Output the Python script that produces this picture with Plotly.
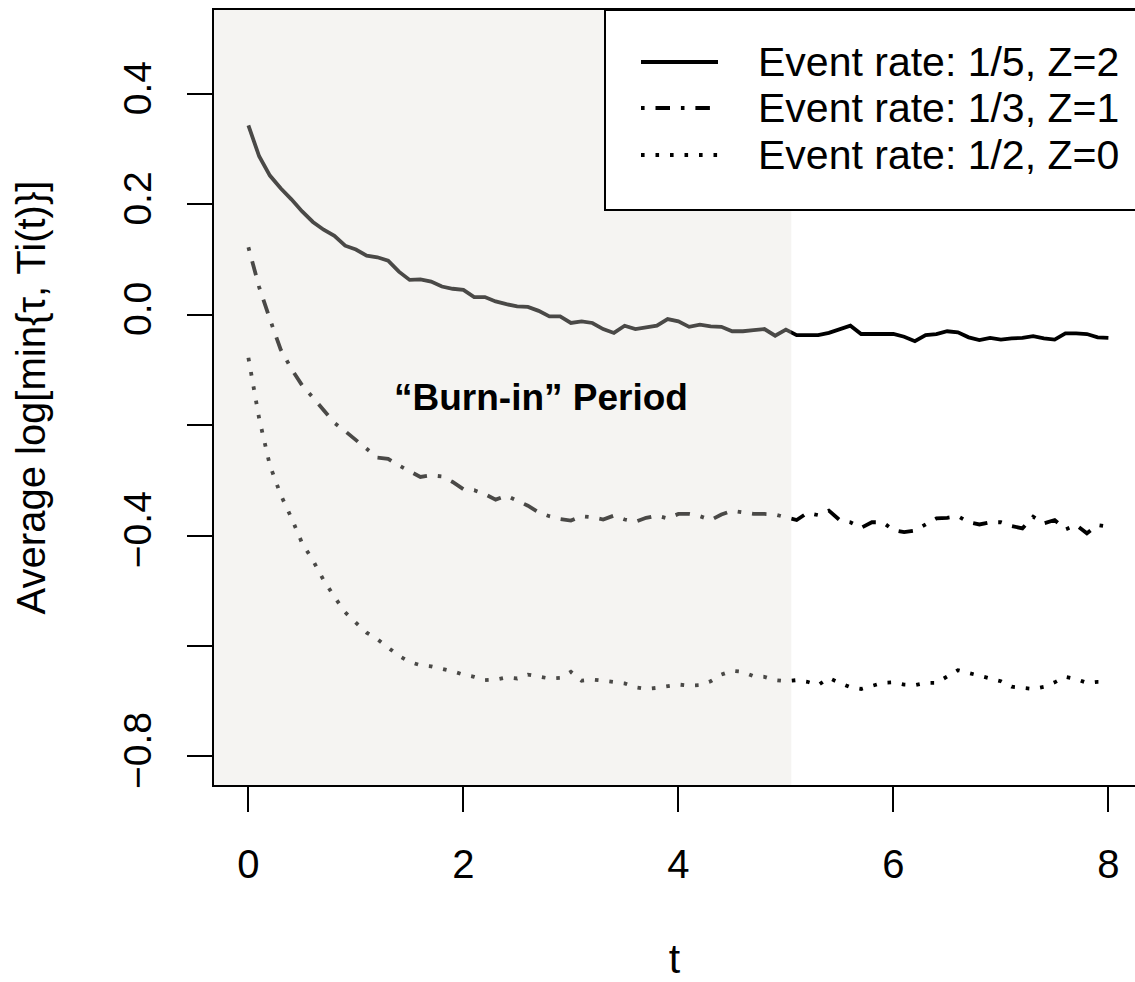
import plotly.graph_objects as go

# ---------------- data ----------------
T = [0.0, 0.1, 0.2, 0.3, 0.4, 0.5, 0.6, 0.7, 0.8, 0.9,
     1.0, 1.1, 1.2, 1.3, 1.4, 1.5, 1.6, 1.7, 1.8, 1.9,
     2.0, 2.1, 2.2, 2.3, 2.4, 2.5, 2.6, 2.7, 2.8, 2.9,
     3.0, 3.1, 3.2, 3.3, 3.4, 3.5, 3.6, 3.7, 3.8, 3.9,
     4.0, 4.1, 4.2, 4.3, 4.4, 4.5, 4.6, 4.7, 4.8, 4.9,
     5.0, 5.1, 5.2, 5.3, 5.4, 5.5, 5.6, 5.7, 5.8, 5.9,
     6.0, 6.1, 6.2, 6.3, 6.4, 6.5, 6.6, 6.7, 6.8, 6.9,
     7.0, 7.1, 7.2, 7.3, 7.4, 7.5, 7.6, 7.7, 7.8, 7.9, 8.0]

rate_1_5 = [0.343, 0.287, 0.252, 0.229, 0.209, 0.187, 0.168, 0.154, 0.143, 0.125,
            0.118, 0.107, 0.104, 0.098, 0.078, 0.063, 0.064, 0.060, 0.051, 0.047,
            0.045, 0.032, 0.032, 0.024, 0.019, 0.015, 0.014, 0.007, -0.003, -0.003,
            -0.015, -0.012, -0.015, -0.026, -0.033, -0.020, -0.026, -0.023, -0.020, -0.008,
            -0.012, -0.022, -0.018, -0.021, -0.022, -0.030, -0.030, -0.028, -0.026, -0.038,
            -0.027, -0.037, -0.037, -0.037, -0.033, -0.026, -0.020, -0.035, -0.035, -0.035,
            -0.035, -0.040, -0.048, -0.037, -0.035, -0.030, -0.032, -0.041, -0.046, -0.042,
            -0.045, -0.043, -0.042, -0.039, -0.043, -0.045, -0.034, -0.034, -0.035, -0.041, -0.042]

rate_1_3 = [0.122, 0.050, -0.008, -0.063, -0.098, -0.128, -0.150, -0.173, -0.196, -0.211,
            -0.226, -0.243, -0.259, -0.261, -0.273, -0.284, -0.294, -0.291, -0.293, -0.303,
            -0.316, -0.318, -0.325, -0.335, -0.328, -0.337, -0.346, -0.358, -0.365, -0.370,
            -0.373, -0.365, -0.367, -0.371, -0.364, -0.371, -0.375, -0.368, -0.364, -0.369,
            -0.361, -0.361, -0.365, -0.372, -0.362, -0.355, -0.358, -0.361, -0.361, -0.362,
            -0.367, -0.372, -0.359, -0.363, -0.355, -0.372, -0.376, -0.386, -0.376, -0.376,
            -0.390, -0.394, -0.391, -0.380, -0.369, -0.368, -0.365, -0.376, -0.380, -0.376,
            -0.376, -0.383, -0.387, -0.366, -0.378, -0.372, -0.389, -0.381, -0.396, -0.381, -0.384]

rate_1_2 = [-0.078, -0.188, -0.273, -0.326, -0.368, -0.414, -0.445, -0.481, -0.511, -0.539,
            -0.558, -0.576, -0.588, -0.603, -0.618, -0.629, -0.635, -0.637, -0.641, -0.646,
            -0.652, -0.656, -0.662, -0.661, -0.657, -0.659, -0.652, -0.656, -0.659, -0.658,
            -0.647, -0.663, -0.661, -0.663, -0.665, -0.668, -0.675, -0.678, -0.676, -0.673,
            -0.670, -0.672, -0.671, -0.664, -0.652, -0.645, -0.647, -0.655, -0.656, -0.662,
            -0.664, -0.662, -0.665, -0.671, -0.658, -0.667, -0.675, -0.678, -0.673, -0.667,
            -0.666, -0.670, -0.671, -0.667, -0.667, -0.656, -0.644, -0.649, -0.654, -0.659,
            -0.664, -0.674, -0.676, -0.678, -0.674, -0.666, -0.656, -0.660, -0.667, -0.665, -0.665]

series_names = ["Event rate: 1/5, Z=2", "Event rate: 1/3, Z=1", "Event rate: 1/2, Z=0"]
x_ticks = [0, 2, 4, 6, 8]
y_ticks = [-0.8, -0.6, -0.4, -0.2, 0.0, 0.2, 0.4]
y_tick_text = ["\u22120.8", "", "\u22120.4", "", "0.0", "0.2", "0.4"]
burn_in_end = 5.05
burn_in_label = "\u201cBurn-in\u201d Period"
x_title = "t"
y_title = "Average log[min{\u03c4, Ti(t)}]"

# ---------------- style ----------------
FONT = "Liberation Sans, Arial, Helvetica, sans-serif"
LW = 3.8
DASHES = ["solid", "3.6px,10.9px,14.5px,10.9px", "3.6px,10.9px"]
W, H = 1135, 982
ML, MT, MB, MR = 214, 10, 197, 0
plot_w = W - ML - MR
plot_h = H - MT - MB

fig = go.Figure()
for vals, name, dash in zip([rate_1_5, rate_1_3, rate_1_2], series_names, DASHES):
    fig.add_trace(go.Scatter(x=T, y=vals, mode="lines", name=name, showlegend=False,
                             line=dict(color="black", width=LW, dash=dash)))

# shaded "burn-in" overlay drawn above the lines (makes them appear grey)
fig.add_shape(type="rect", xref="x", yref="y domain", x0=-0.32, x1=burn_in_end, y0=0, y1=1,
              fillcolor="rgb(225,222,216)", opacity=0.33, line_width=0, layer="above")

fig.add_annotation(x=2.72, y=-0.15, xref="x", yref="y", text="<b>" + burn_in_label + "</b>",
                   showarrow=False, font=dict(family=FONT, size=37, color="black"))

# manual legend (R-style box touching the top border, cut by right edge)
def px_x(p):
    return (p - ML) / plot_w

def px_y(p):
    return 1 - (p - MT) / plot_h

fig.add_shape(type="rect", xref="paper", yref="paper", x0=px_x(605), x1=px_x(1145),
              y0=px_y(210), y1=px_y(10), fillcolor="white",
              line=dict(color="black", width=2), layer="above")
rows = [62, 108, 155]
for name, dash, ry in zip(series_names, DASHES, rows):
    fig.add_shape(type="line", xref="paper", yref="paper", x0=px_x(641), x1=px_x(718),
                  y0=px_y(ry), y1=px_y(ry), line=dict(color="black", width=LW, dash=dash),
                  layer="above")
    fig.add_annotation(xref="paper", yref="paper", x=px_x(756), y=px_y(ry), text=name,
                       showarrow=False, xanchor="left", yanchor="middle",
                       font=dict(family=FONT, size=41, color="black"))

fig.update_layout(
    width=W, height=H,
    margin=dict(l=ML, r=MR, t=MT, b=MB, pad=0),
    paper_bgcolor="white", plot_bgcolor="white",
    font=dict(family=FONT, size=39, color="black"),
    showlegend=False,
    xaxis=dict(range=[-0.32, -0.32 + plot_w / 107.5], tickvals=x_ticks,
               ticktext=[str(v) for v in x_ticks],
               showgrid=False, zeroline=False, showline=True, mirror=True,
               linecolor="black", linewidth=2, ticks="outside", ticklen=25, tickwidth=2,
               tickcolor="black", ticklabelstandoff=18,
               tickfont=dict(family=FONT, size=40),
               title=dict(text=x_title, font=dict(family=FONT, size=41), standoff=64)),
    yaxis=dict(range=[-0.852, 0.552], tickvals=y_ticks, ticktext=y_tick_text,
               showgrid=False, zeroline=False, showline=True, mirror=False,
               linecolor="black", linewidth=2, ticks="outside", ticklen=25, tickwidth=2,
               tickcolor="black", tickangle=-90, ticklabelstandoff=20,
               tickfont=dict(family=FONT, size=39),
               title=dict(text=y_title, font=dict(family=FONT, size=40), standoff=58)),
)

fig.write_html("out.html")
